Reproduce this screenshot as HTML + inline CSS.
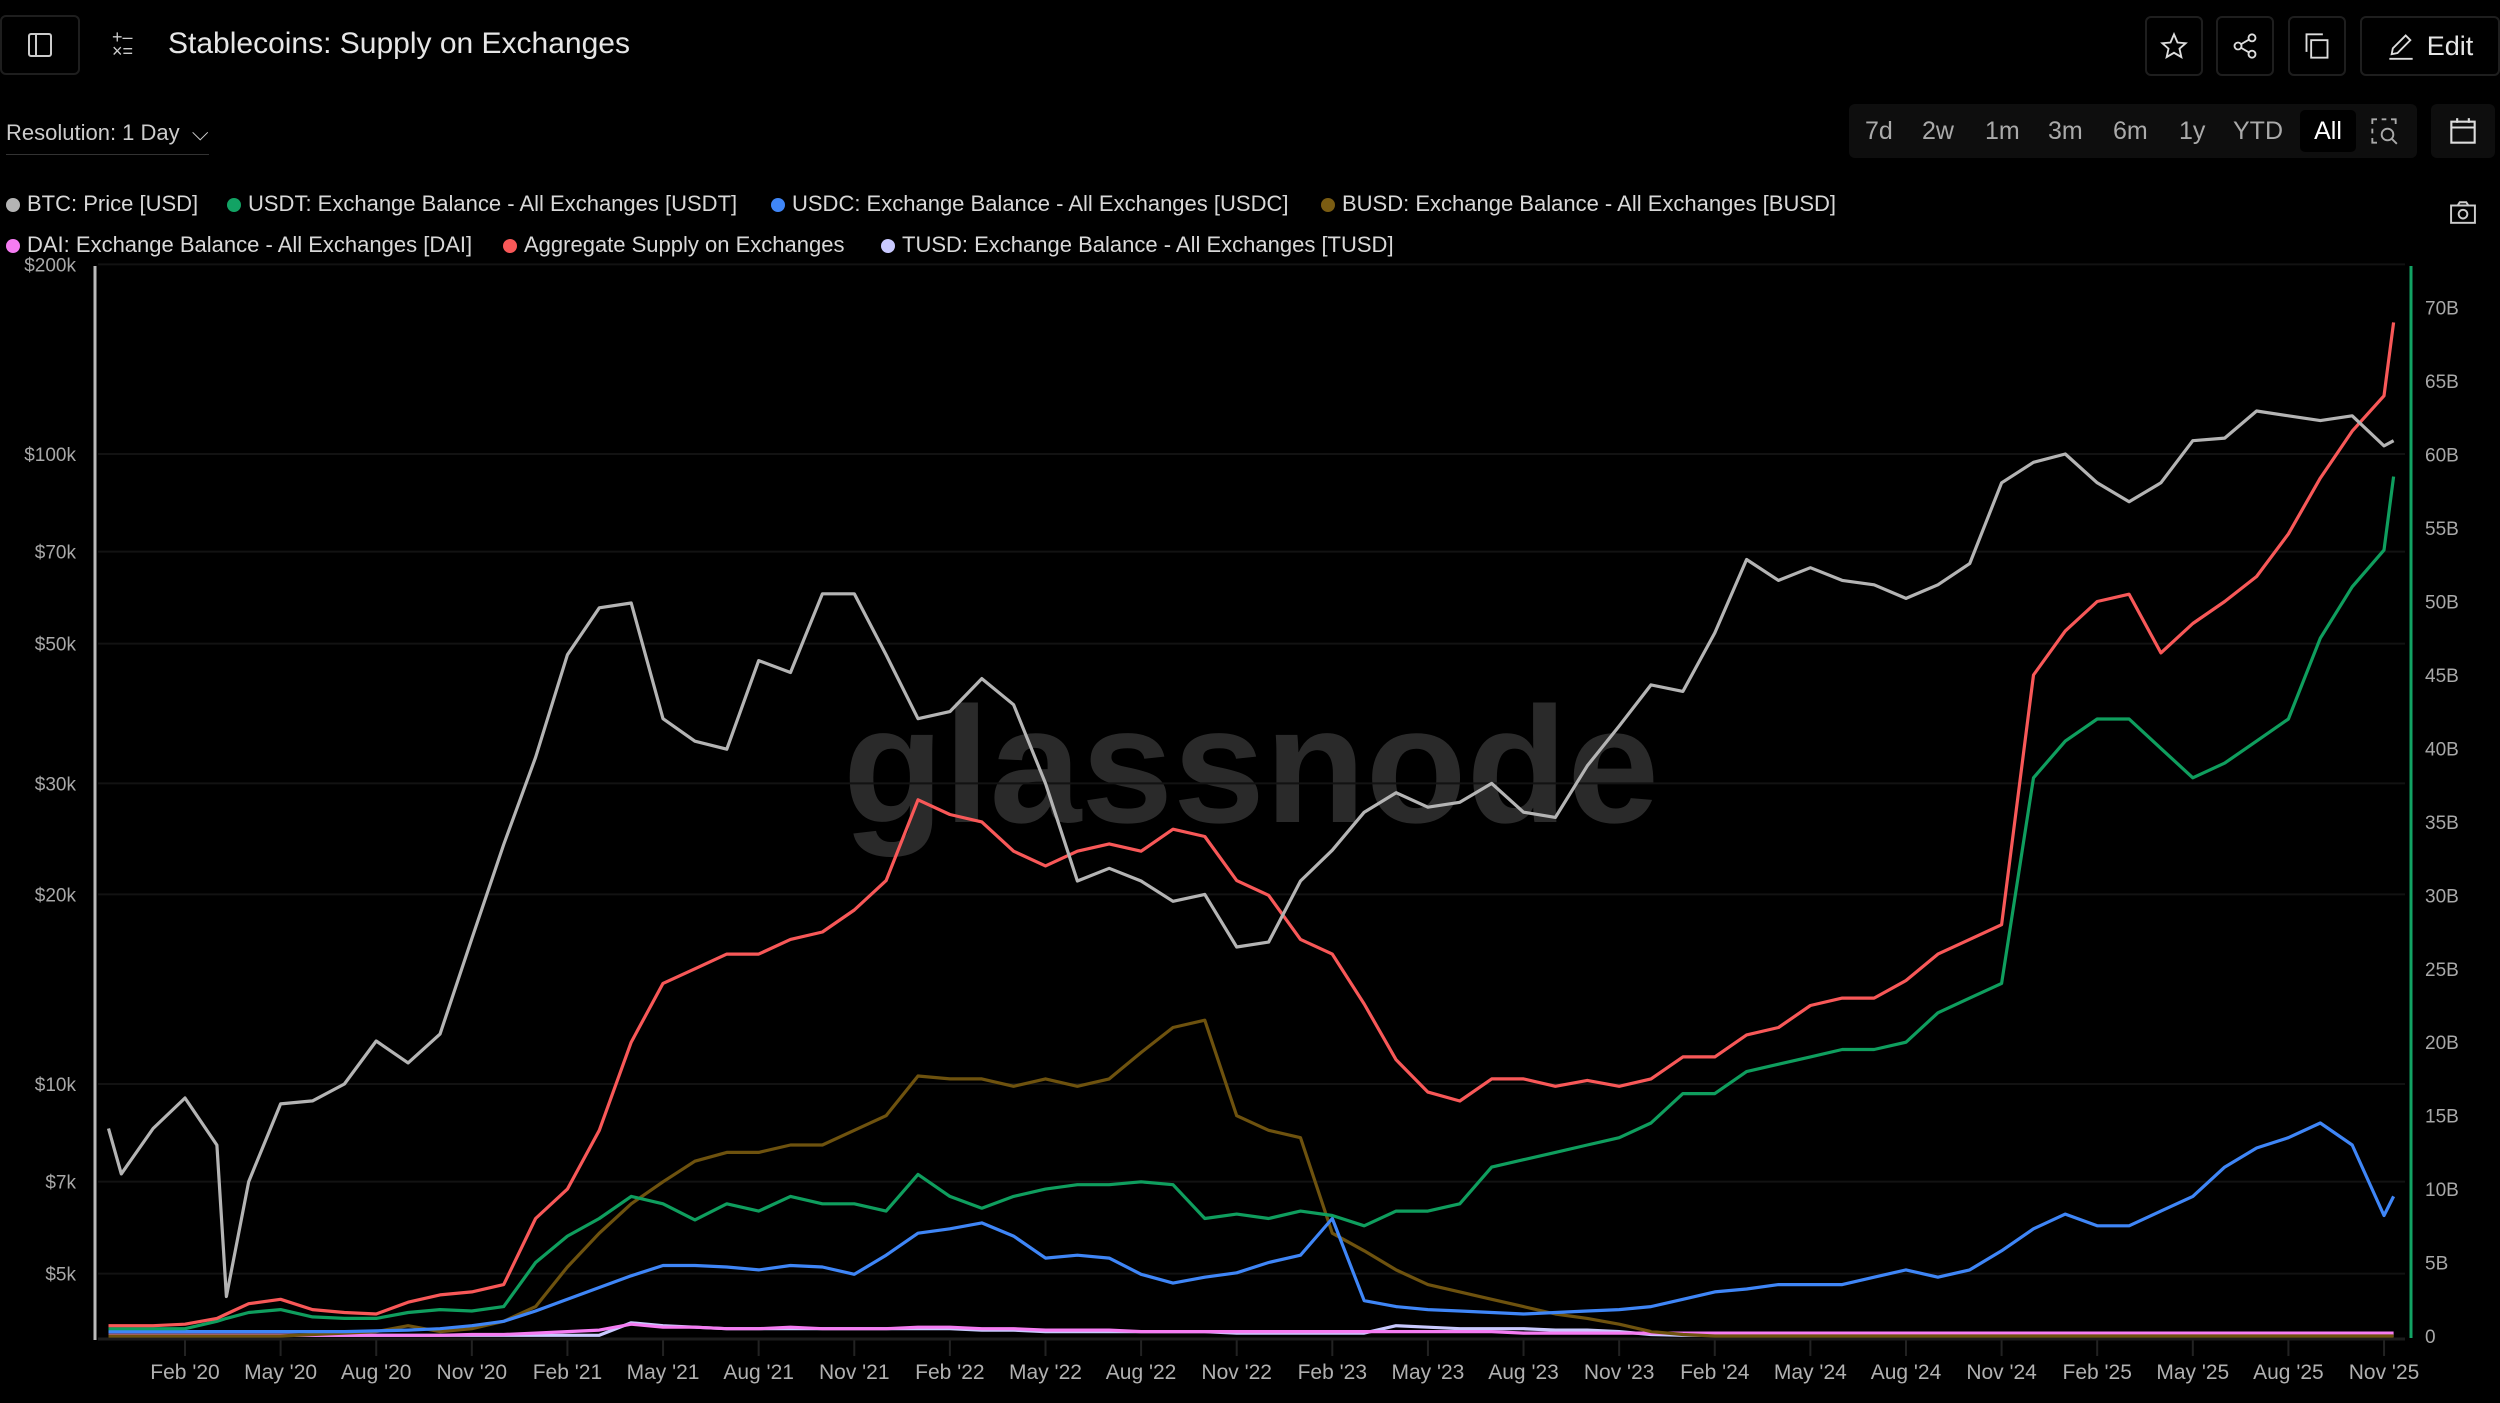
<!DOCTYPE html>
<html><head><meta charset="utf-8">
<style>
html,body{margin:0;padding:0;background:#000;}
body{width:2500px;height:1403px;overflow:hidden;position:relative;font-family:"Liberation Sans",sans-serif;color:#ddd;}
.btn{position:absolute;border:2px solid #1e1e1e;border-radius:6px;box-sizing:border-box;display:flex;align-items:center;justify-content:center;}
.leg{position:absolute;font-size:22px;color:#d8d8d8;white-space:nowrap;}
.leg i{display:inline-block;width:14px;height:14px;border-radius:50%;margin-right:7px;vertical-align:-1px;}
.rng{position:absolute;top:104px;height:54px;font-size:25px;color:#aaa;display:flex;align-items:center;}
</style></head><body>
<div class="btn" style="left:0;top:15px;width:80px;height:60px;">
<svg width="26" height="26" viewBox="0 0 26 26"><rect x="2" y="2" width="22" height="22" rx="2" fill="none" stroke="#ccc" stroke-width="2"/><line x1="9" y1="2" x2="9" y2="24" stroke="#ccc" stroke-width="2"/></svg></div>
<div style="position:absolute;left:112px;top:30px;color:#ccc;font-size:18px;line-height:14px;">+‒<br>×=</div>
<div style="position:absolute;left:168px;top:27px;font-size:30px;color:#e6e6e6;">Stablecoins: Supply on Exchanges</div>
<div class="btn" style="left:2145px;top:16px;width:58px;height:60px;"><svg width="28" height="28" viewBox="0 0 24 24"><path d="M12 2l3 7 7 .6-5.3 4.7 1.6 7.2L12 17.8 5.7 21.5l1.6-7.2L2 9.6 9 9z" fill="none" stroke="#ddd" stroke-width="1.6"/></svg></div>
<div class="btn" style="left:2216px;top:16px;width:58px;height:60px;"><svg width="28" height="28" viewBox="0 0 24 24" fill="none" stroke="#ddd" stroke-width="1.6"><circle cx="18" cy="5" r="3"/><circle cx="6" cy="12" r="3"/><circle cx="18" cy="19" r="3"/><line x1="8.6" y1="10.5" x2="15.4" y2="6.5"/><line x1="8.6" y1="13.5" x2="15.4" y2="17.5"/></svg></div>
<div class="btn" style="left:2288px;top:16px;width:58px;height:60px;"><svg width="28" height="28" viewBox="0 0 24 24" fill="none" stroke="#ddd" stroke-width="1.6"><rect x="7" y="7" width="14" height="15"/><path d="M3 17V2h14"/></svg></div>
<div class="btn" style="left:2360px;top:16px;width:140px;height:60px;font-size:27px;color:#e6e6e6;"><svg width="28" height="28" viewBox="0 0 24 24" fill="none" stroke="#ddd" stroke-width="1.6" style="margin-right:12px"><path d="M4 19l1-5L16 3l4 4L9 18z"/><line x1="2" y1="23" x2="22" y2="23"/></svg>Edit</div>
<div style="position:absolute;left:6px;top:120px;font-size:22px;color:#ccc;border-bottom:1px solid #333;padding-bottom:8px;">Resolution: 1 Day &nbsp;⌵</div>
<div style="position:absolute;left:1849px;top:104px;width:568px;height:54px;background:#0e0e0e;border-radius:6px;"></div>
<div class="rng" style="left:1865px">7d</div>
<div class="rng" style="left:1922px">2w</div>
<div class="rng" style="left:1985px">1m</div>
<div class="rng" style="left:2048px">3m</div>
<div class="rng" style="left:2113px">6m</div>
<div class="rng" style="left:2179px">1y</div>
<div class="rng" style="left:2233px">YTD</div>
<div class="rng" style="left:2300px;top:110px;height:42px;width:56px;justify-content:center;background:#000;border-radius:5px;color:#fff;">All</div>
<div style="position:absolute;left:2370px;top:117px;"><svg width="28" height="28" viewBox="0 0 24 24" fill="none" stroke="#aaa" stroke-width="1.6"><path d="M2 6V2h4M10 2h4M18 2h4v4M2 10v4M2 18v4h4"/><circle cx="15" cy="15" r="5"/><line x1="19" y1="19" x2="23" y2="23"/></svg></div>
<div class="btn" style="left:2431px;top:104px;width:64px;height:54px;background:#0e0e0e;border:none;"><svg width="28" height="28" viewBox="0 0 24 24" fill="none" stroke="#ddd" stroke-width="1.8"><rect x="2" y="4" width="20" height="18"/><line x1="2" y1="9" x2="22" y2="9"/><line x1="7" y1="1" x2="7" y2="5"/><line x1="17" y1="1" x2="17" y2="5"/></svg></div>
<div style="position:absolute;left:2450px;top:200px;"><svg width="26" height="24" viewBox="0 0 24 22" fill="none" stroke="#ccc" stroke-width="1.8"><rect x="1" y="5" width="22" height="16"/><path d="M7 5l2-3h6l2 3"/><circle cx="12" cy="13" r="4"/></svg></div>

<div class="leg" style="left:6px;top:191px"><i style="background:#b4b4b4"></i>BTC: Price [USD]</div>
<div class="leg" style="left:227px;top:191px"><i style="background:#12a364"></i>USDT: Exchange Balance - All Exchanges [USDT]</div>
<div class="leg" style="left:771px;top:191px"><i style="background:#3f86f7"></i>USDC: Exchange Balance - All Exchanges [USDC]</div>
<div class="leg" style="left:1321px;top:191px"><i style="background:#7a5c12"></i>BUSD: Exchange Balance - All Exchanges [BUSD]</div>
<div class="leg" style="left:6px;top:232px"><i style="background:#f57cf2"></i>DAI: Exchange Balance - All Exchanges [DAI]</div>
<div class="leg" style="left:503px;top:232px"><i style="background:#f85858"></i>Aggregate Supply on Exchanges</div>
<div class="leg" style="left:881px;top:232px"><i style="background:#c9c9ff"></i>TUSD: Exchange Balance - All Exchanges [TUSD]</div>

<svg id="chart" width="2500" height="1403" style="position:absolute;left:0;top:0;" xmlns="http://www.w3.org/2000/svg">
<text x="1251" y="822" text-anchor="middle" font-family="Liberation Sans, sans-serif" font-size="165" font-weight="bold" fill="#2a2a2a">glassnode</text>
</svg>
<script>
const months=[-1.4,-1,0,1,2,2.3,3,4,5,6,7,8,9,10,11,12,13,14,15,16,17,18,19,20,21,22,23,24,25,26,27,28,29,30,31,32,33,34,35,36,37,38,39,40,41,42,43,44,45,46,47,48,49,50,51,52,53,54,55,56,57,58,59,60,61,62,63,64,65,66,67,68,69,70,70.3];
const btc=[8500,7200,8500,9500,8000,4600,7000,9300,9400,10000,11700,10800,12000,17000,24000,33000,48000,57000,58000,38000,35000,34000,47000,45000,60000,60000,48000,38000,39000,44000,40000,30000,21000,22000,21000,19500,20000,16500,16800,21000,23500,27000,29000,27500,28000,30000,27000,26500,32000,37000,43000,42000,52000,68000,63000,66000,63000,62000,59000,62000,67000,90000,97000,100000,90000,84000,90000,105000,106000,117000,115000,113000,115000,103000,105000];
const aggregate=[0.7,0.7,0.7,0.8,1.2,1.5,2.2,2.5,1.8,1.6,1.5,2.3,2.8,3.0,3.5,8.0,10,14,20,24,25,26,26,27,27.5,29,31,36.5,35.5,35,33,32,33,33.5,33,34.5,34,31,30,27,26,22.6,18.8,16.6,16,17.5,17.5,17,17.4,17,17.5,19,19,20.5,21,22.5,23,23,24.2,26,27,28,45,48,50,50.5,46.5,48.5,50,51.7,54.6,58.4,61.6,64,69];
const usdt=[0.5,0.5,0.5,0.5,1.0,1.2,1.6,1.8,1.3,1.2,1.2,1.6,1.8,1.7,2.0,5.0,6.8,8,9.5,9,7.9,9,8.5,9.5,9,9,8.5,11,9.5,8.7,9.5,10,10.3,10.3,10.5,10.3,8,8.3,8,8.5,8.2,7.5,8.5,8.5,9,11.5,12,12.5,13,13.5,14.5,16.5,16.5,18,18.5,19,19.5,19.5,20,22,23,24,38,40.5,42,42,40,38,39,40.5,42,47.5,51,53.5,58.5];
const usdc=[0.3,0.3,0.3,0.3,0.3,0.3,0.3,0.3,0.3,0.3,0.35,0.4,0.5,0.7,1.0,1.7,2.5,3.3,4.1,4.8,4.8,4.7,4.5,4.8,4.7,4.2,5.5,7.0,7.3,7.7,6.8,5.3,5.5,5.3,4.2,3.6,4.0,4.3,5.0,5.5,8.0,2.4,2.0,1.8,1.7,1.6,1.5,1.6,1.7,1.8,2.0,2.5,3.0,3.2,3.5,3.5,3.5,4.0,4.5,4.0,4.5,5.8,7.3,8.3,7.5,7.5,8.5,9.5,11.5,12.8,13.5,14.5,13,8.2,9.5];
const busd=[0,0,0,0,0,0,0,0,0.1,0.2,0.3,0.7,0.3,0.5,1.0,2.0,4.7,7,9,10.5,11.9,12.5,12.5,13,13,14,15,17.7,17.5,17.5,17,17.5,17,17.5,19.3,21,21.5,15,14,13.5,7,5.8,4.5,3.5,3,2.5,2,1.5,1.2,0.8,0.3,0.1,0,0,0,0,0,0,0,0,0,0,0,0,0,0,0,0,0,0,0,0,0,0,0];
const dai=[0.05,0.05,0.05,0.05,0.05,0.05,0.05,0.05,0.05,0.05,0.05,0.05,0.05,0.1,0.1,0.2,0.3,0.4,0.8,0.6,0.6,0.5,0.5,0.6,0.5,0.5,0.5,0.6,0.6,0.5,0.5,0.4,0.4,0.4,0.3,0.3,0.3,0.3,0.3,0.3,0.3,0.3,0.3,0.3,0.3,0.3,0.2,0.2,0.2,0.2,0.2,0.2,0.2,0.2,0.2,0.2,0.2,0.2,0.2,0.2,0.2,0.2,0.2,0.2,0.2,0.2,0.2,0.2,0.2,0.2,0.2,0.2,0.2,0.2,0.2];
const tusd=[0.05,0.05,0.05,0.05,0.05,0.05,0.05,0.05,0.05,0.05,0.05,0.05,0.05,0.05,0.05,0.05,0.05,0.05,0.9,0.7,0.6,0.5,0.5,0.5,0.5,0.5,0.5,0.5,0.5,0.4,0.4,0.3,0.3,0.3,0.3,0.3,0.3,0.2,0.2,0.2,0.2,0.2,0.7,0.6,0.5,0.5,0.5,0.4,0.4,0.3,0.1,0.05,0.05,0.05,0.05,0.05,0.05,0.05,0.05,0.05,0.05,0.05,0.05,0.05,0.05,0.05,0.05,0.05,0.05,0.05,0.05,0.05,0.05,0.05,0.05];
const leftTicks=[200000,100000,70000,50000,30000,20000,10000,7000,5000];
const leftTickLabels=["$200k","$100k","$70k","$50k","$30k","$20k","$10k","$7k","$5k"];
const rightTicks=[0,5,10,15,20,25,30,35,40,45,50,55,60,65,70];
const xTickMonths=[1,4,7,10,13,16,19,22,25,28,31,34,37,40,43,46,49,52,55,58,61,64,67,70];
const xTickLabels=["Feb '20","May '20","Aug '20","Nov '20","Feb '21","May '21","Aug '21","Nov '21","Feb '22","May '22","Aug '22","Nov '22","Feb '23","May '23","Aug '23","Nov '23","Feb '24","May '24","Aug '24","Nov '24","Feb '25","May '25","Aug '25","Nov '25"];

const NS="http://www.w3.org/2000/svg";
const svg=document.getElementById('chart');
const X=m=>185+(m-1)*31.87;
const YL=v=>1084-Math.log10(v/10000)*630;
const YR=v=>1336-v*14.69;
function mk(tag,attrs){const e=document.createElementNS(NS,tag);for(const k in attrs)e.setAttribute(k,attrs[k]);svg.appendChild(e);return e;}
leftTicks.forEach((v,i)=>{
  const g=mk('line',{x1:98,x2:2405,y1:YL(v),y2:YL(v),stroke:'#121212','stroke-width':2});
  
  
  const t=mk('text',{x:76,y:YL(v)+7,'text-anchor':'end','font-size':19,fill:'#a8a8a8','font-family':'Liberation Sans, sans-serif'});
  t.textContent=leftTickLabels[i];
  
  
});
rightTicks.forEach(v=>{
  const t=mk('text',{x:2425,y:YR(v)+7,'font-size':19,fill:'#a8a8a8','font-family':'Liberation Sans, sans-serif'});
  t.textContent=v===0?'0':v+'B';
  
  
});
xTickMonths.forEach((m,i)=>{
  const l=mk('line',{x1:X(m),x2:X(m),y1:1340,y2:1356,stroke:'#222','stroke-width':2});
  
  
  const t=mk('text',{x:X(m),y:1379,'text-anchor':'middle','font-size':21,fill:'#b0b0b0','font-family':'Liberation Sans, sans-serif'});
  t.textContent=xTickLabels[i];
  
  
});
let a=mk('line',{x1:95,x2:95,y1:266,y2:1340,stroke:'#bbb','stroke-width':3});


a=mk('line',{x1:2411,x2:2411,y1:266,y2:1338,stroke:'#12a364','stroke-width':3});


a=mk('line',{x1:98,x2:2405,y1:1339,y2:1339,stroke:'#1c1c1c','stroke-width':3});


function line(vals,yf,color,name){
  const pts=vals.map((v,i)=>X(months[i]).toFixed(1)+','+yf(v).toFixed(1)).join(' ');
  const p=mk('polyline',{points:pts,fill:'none',stroke:color,'stroke-width':3.2,'stroke-linejoin':'round'});
  
  
}
line(tusd,YR,'#c9c9ff','tusd-line');
line(dai,YR,'#f57cf2','dai-line');
line(busd,YR,'#6e520e','busd-line');
line(usdc,YR,'#3f86f7','usdc-line');
line(usdt,YR,'#0f9e5e','usdt-line');
line(aggregate,YR,'#f85858','aggregate-line');
line(btc,YL,'#b4b4b4','btc-price-line');
</script>
</body></html>
